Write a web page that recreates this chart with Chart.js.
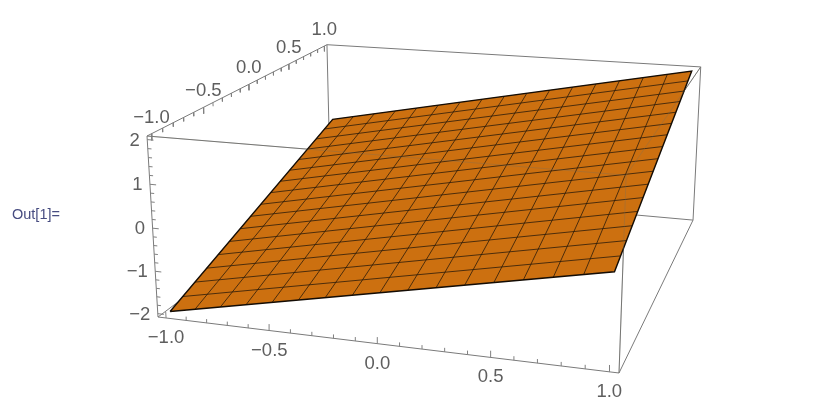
<!DOCTYPE html>
<html>
<head>
<meta charset="utf-8">
<title>Out[1]</title>
<style>
  html, body { margin: 0; padding: 0; background: #fff; }
  #wrap { position: relative; width: 824px; height: 404px; }
</style>
<script src="https://cdn.jsdelivr.net/npm/chart.js@4/dist/chart.umd.min.js"></script>
</head>
<body>
<div id="wrap"><canvas id="plot" width="824" height="404"></canvas></div>
<script>
// ── DATA ───────────────────────────────────────────────────
const xMajorTicks = [-1, -0.5, 0, 0.5, 1];
const xMinorTicks = [-0.9, -0.8, -0.7, -0.6, -0.4, -0.3, -0.2, -0.1, 0.1, 0.2, 0.3, 0.4, 0.6, 0.7, 0.8, 0.9];
const yMajorTicks = [-1, -0.5, 0, 0.5, 1];
const yMinorTicks = [-0.9, -0.8, -0.7, -0.6, -0.4, -0.3, -0.2, -0.1, 0.1, 0.2, 0.3, 0.4, 0.6, 0.7, 0.8, 0.9];
const zMajorTicks = [-2, -1, 0, 1, 2];
const zMinorTicks = [-1.8, -1.6, -1.4, -1.2, -0.8, -0.6, -0.4, -0.2, 0.2, 0.4, 0.6, 0.8, 1.2, 1.4, 1.6, 1.8];
const xTickLabels = ['−1.0', '−0.5', '0.0', '0.5', '1.0'];
const yTickLabels = ['−1.0', '−0.5', '0.0', '0.5', '1.0'];
const zTickLabels = ['−2', '−1', '0', '1', '2'];

// mesh lines, and the surface height at both ends of each line
const meshLines = [-1, -0.875, -0.75, -0.625, -0.5, -0.375, -0.25, -0.125, 0, 0.125, 0.25, 0.375, 0.5, 0.625, 0.75, 0.875, 1];
const surfaceZAtLow = [-2, -1.875, -1.75, -1.625, -1.5, -1.375, -1.25, -1.125, -1, -0.875, -0.75, -0.625, -0.5, -0.375, -0.25, -0.125, 0];
const surfaceZAtHigh = [0, 0.125, 0.25, 0.375, 0.5, 0.625, 0.75, 0.875, 1, 1.125, 1.25, 1.375, 1.5, 1.625, 1.75, 1.875, 2];

// ── VIEW ───────────────────────────────────────────────────
const RANGE_XY = 1.04, RANGE_Z = 2.08;
const BOX_ORIGIN = [158, 317], BOX_X = [619, 373], BOX_Y = [330.4, 187.6], BOX_Z = [147, 136];
const DEPTH_X = 0.908, DEPTH_Y = 1.29, DEPTH_Z = 0.9635;

// perspective projection of the plot box on to the page
function project(x, y, z) {
  const s = (x + RANGE_XY) / (2 * RANGE_XY);
  const t = (y + RANGE_XY) / (2 * RANGE_XY);
  const r = (z + RANGE_Z) / (2 * RANGE_Z);
  const w = 1 + s * (DEPTH_X - 1) + t * (DEPTH_Y - 1) + r * (DEPTH_Z - 1);
  const axis = i => BOX_ORIGIN[i]
    + s * (DEPTH_X * BOX_X[i] - BOX_ORIGIN[i])
    + t * (DEPTH_Y * BOX_Y[i] - BOX_ORIGIN[i])
    + r * (DEPTH_Z * BOX_Z[i] - BOX_ORIGIN[i]);
  return { x: axis(0) / w, y: axis(1) / w };
}

const BOX_COLOR = '#7a7a7a';
const TICK_COLOR = '#808080';
const LABEL_COLOR = '#5e5e5e';
const SURFACE_COLOR = '#cc7010';

const datasets = [];
function addPath(points, color, width, extra) {
  datasets.push(Object.assign({
    data: points,
    showLine: true,
    borderColor: color,
    borderWidth: width,
    pointRadius: 0,
    fill: false,
    clip: false,
    order: -datasets.length,
  }, extra || {}));
}

// ── BOX ────────────────────────────────────────────────────
const R = RANGE_XY, Z = RANGE_Z;
const edges = [
  [[-R, R, Z], [-R, R, -Z]],
  [[-R, R, -Z], [-R, -R, -Z]],
  [[-R, R, -Z], [R, R, -Z]],
  [[-R, -R, -Z], [R, -R, -Z]],
  [[-R, -R, -Z], [-R, -R, Z]],
  [[R, -R, -Z], [R, R, -Z]],
  [[R, R, -Z], [R, R, Z]],
  [[-R, -R, Z], [-R, R, Z]],
  [[-R, R, Z], [R, R, Z]],
  [[-R, -R, Z], [R, -R, Z]],
  [[R, -R, Z], [R, -R, -Z]],
  [[R, -R, Z], [R, R, Z]],
];
edges.forEach(e => addPath(e.map(p => project(...p)), BOX_COLOR, 1));

// edges in front of the surface, shown faintly across it
const frontEdges = edges.slice(9);

// ticks
xMajorTicks.forEach(v => addPath([project(v, -R, -Z), project(v, -R, -Z + 0.15)], TICK_COLOR, 1));
xMinorTicks.forEach(v => addPath([project(v, -R, -Z), project(v, -R, -Z + 0.09)], TICK_COLOR, 1));
yMajorTicks.forEach(v => addPath([project(-R, v, Z), project(-R, v, Z - 0.15)], TICK_COLOR, 1));
yMinorTicks.forEach(v => addPath([project(-R, v, Z), project(-R, v, Z - 0.09)], TICK_COLOR, 1));
zMajorTicks.forEach(v => addPath([project(-R, -R, v), project(-R + 0.03, -R, v)], TICK_COLOR, 1));
zMinorTicks.forEach(v => addPath([project(-R, -R, v), project(-R + 0.018, -R, v)], TICK_COLOR, 1));

// ── SURFACE ────────────────────────────────────────────────
const last = meshLines.length - 1;
const outline = [
  project(meshLines[0], meshLines[0], surfaceZAtLow[0]),
  project(meshLines[last], meshLines[0], surfaceZAtLow[last]),
  project(meshLines[last], meshLines[last], surfaceZAtHigh[last]),
  project(meshLines[0], meshLines[last], surfaceZAtHigh[0]),
  project(meshLines[0], meshLines[0], surfaceZAtLow[0]),
];
addPath(outline, SURFACE_COLOR, 0, { fill: 'shape', backgroundColor: SURFACE_COLOR });

meshLines.forEach((m, i) => {
  if (i === 0 || i === last) return;
  addPath([project(m, meshLines[0], surfaceZAtLow[i]), project(m, meshLines[last], surfaceZAtHigh[i])], 'rgba(40,25,10,0.78)', 1);
  addPath([project(meshLines[0], m, surfaceZAtLow[i]), project(meshLines[last], m, surfaceZAtHigh[i])], 'rgba(40,25,10,0.78)', 1);
});
addPath(outline, '#140c04', 1.4);
frontEdges.forEach(e => addPath(e.map(p => project(...p)), 'rgba(110,110,100,0.3)', 1));

// ── LABELS ─────────────────────────────────────────────────
const tickText = {
  id: 'tickText',
  afterDatasetsDraw(chart) {
    const { ctx, scales } = chart;
    const put = (text, pos, dx, dy) => {
      ctx.fillText(text, scales.x.getPixelForValue(pos.x) + dx, scales.y.getPixelForValue(pos.y) + dy);
    };
    ctx.save();
    ctx.textAlign = 'center';
    ctx.textBaseline = 'middle';
    ctx.fillStyle = LABEL_COLOR;
    ctx.font = '18.5px "Liberation Sans", Arial, sans-serif';
    xMajorTicks.forEach((v, i) => put(xTickLabels[i], project(v, -R, -Z), 0, 20));
    yMajorTicks.forEach((v, i) => put(yTickLabels[i], project(-R, v, Z), 0, -16));
    ctx.textAlign = 'right';
    zMajorTicks.forEach((v, i) => put(zTickLabels[i], project(-R, -R, v), -7.5, 1));
    ctx.textAlign = 'left';
    ctx.fillStyle = '#474c80';
    ctx.font = '14.5px "Liberation Sans", Arial, sans-serif';
    ctx.fillText('Out[1]=', 12, 215);
    ctx.restore();
  },
};

// ── CHART ──────────────────────────────────────────────────
new Chart(document.getElementById('plot'), {
  type: 'scatter',
  data: { datasets },
  options: {
    responsive: false,
    animation: false,
    events: [],
    layout: { padding: 0 },
    plugins: { legend: { display: false }, tooltip: { enabled: false } },
    scales: {
      x: { type: 'linear', min: 0, max: 824, display: false },
      y: { type: 'linear', min: 0, max: 404, reverse: true, display: false },
    },
  },
  plugins: [tickText],
});
</script>
</body>
</html>
